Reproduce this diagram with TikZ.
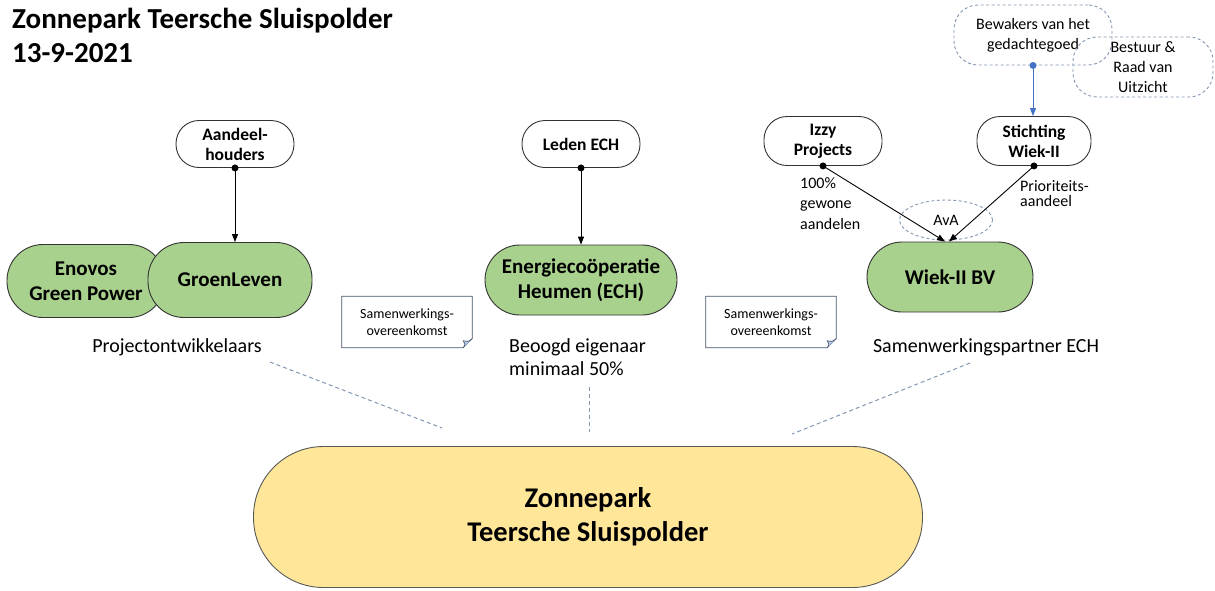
\documentclass[tikz,border=0pt]{standalone}
\usepackage{fontspec}
\setmainfont{Carlito}
\usetikzlibrary{arrows.meta,calc,shapes.geometric}
\definecolor{pgreen}{HTML}{A9D18E}
\definecolor{pyellow}{HTML}{FFE699}
\definecolor{dashgrey}{HTML}{8497B0}
\definecolor{notebd}{HTML}{44546A}
\definecolor{notefold}{HTML}{B4C7E7}
\definecolor{linkblue}{HTML}{4472C4}
\tikzset{
  pill/.style={draw=black!80, line width=0.9pt, rounded corners=#1, align=center, inner sep=0pt},
  smallpill/.style={pill=23pt, fill=white, minimum width=118pt, minimum height=47pt,
    font=\bfseries\fontsize{17.5}{20}\selectfont},
  greenpill/.style={pill=36pt, fill=pgreen, minimum height=72pt,
    font=\bfseries\fontsize{21}{25}\selectfont},
  cloudbox/.style={draw=dashgrey, line width=0.9pt, dash pattern=on 3pt off 2.5pt, rounded corners=24pt,
    align=center, inner sep=0pt, font=\fontsize{16}{20}\selectfont},
  lbl/.style={inner sep=0pt, font=\fontsize{20}{23.5}\selectfont},
  smlbl/.style={inner sep=0pt, align=left, font=\fontsize{16}{20.5}\selectfont},
  notebox/.style={inner sep=0pt, minimum width=130pt, minimum height=51pt, align=center,
    font=\fontsize{14}{17}\selectfont},
  link/.style={draw=black, line width=0.9pt, -{Triangle[length=8pt,width=6pt]}},
  guide/.style={draw=dashgrey, line width=1pt, dash pattern=on 4pt off 3pt},
  title/.style={inner sep=0pt, font=\bfseries\fontsize{29}{34}\selectfont}
}
\begin{document}
\begin{tikzpicture}[x=1pt,y=-1pt]
\useasboundingbox (0,0) rectangle (1215,590);

% title
\node[title, anchor=base west] (t1) at (12,28) {Zonnepark Teersche Sluispolder};
\node[title, anchor=base west] (t2) at (12,62) {13-9-2021};

% top row
\node[smallpill] (aand) at (235,144) {Aandeel-\\houders};
\node[smallpill] (leden) at (581,144) {Leden ECH};
\node[smallpill, minimum height=49pt] (izzy) at (823,141) {Izzy\\Projects};
\node[smallpill, minimum height=49pt, minimum width=114pt] (stich) at (1034,141) {Stichting\\Wiek-II};

% clouds
\node[cloudbox, minimum width=158pt, minimum height=60pt] (bew) at (1033,35) {Bewakers van het\\gedachtegoed};
\node[cloudbox, minimum width=140pt, minimum height=60pt] (best) at (1143,67) {Bestuur \&\\Raad van\\Uitzicht};
\node[draw=dashgrey, line width=0.9pt, dash pattern=on 3pt off 2.5pt, ellipse, inner sep=0pt,
  minimum width=93pt, minimum height=40pt, font=\fontsize{16}{20}\selectfont] (ava) at (946,220) {AvA};

% green entities
\node[greenpill, minimum width=158pt, minimum height=73pt] (enovos) at (86,281) {Enovos\\Green Power};
\node[greenpill, minimum width=164pt, minimum height=75pt] (groen) at (230,280) {GroenLeven};
\node[greenpill, minimum width=192pt, minimum height=70pt, pill=35pt] (ech) at (581,280) {Energiecoöperatie\\Heumen (ECH)};
\node[greenpill, minimum width=166pt, minimum height=70pt, pill=35pt] (wiek) at (950,277) {Wiek-II BV};

% big pill
\node[pill=70pt, fill=pyellow, draw=black!65, minimum width=669pt, minimum height=141pt,
  font=\bfseries\fontsize{28.5}{34}\selectfont] (zp) at (588,517) {Zonnepark\\Teersche Sluispolder};

% notes
\foreach \nm/\cx in {note1/407, note2/771}{
  \node[notebox] (\nm) at (\cx,322) {};
  \draw[draw=notebd, line width=0.8pt, fill=white]
    (\nm.north west) -- (\nm.north east) -- ([yshift=9pt]\nm.south east)
    -- ([xshift=-9pt]\nm.south east) -- (\nm.south west) -- cycle;
  \draw[draw=notebd, line width=0.6pt, fill=notefold]
    ([yshift=9pt]\nm.south east) .. controls ([xshift=-4pt,yshift=6pt]\nm.south east) .. ([xshift=-9pt,yshift=7pt]\nm.south east)
    .. controls ([xshift=-7pt,yshift=3pt]\nm.south east) .. ([xshift=-9pt]\nm.south east);
  \node[notebox] at (\cx,322) {Samenwerkings-\\overeenkomst};
}

% labels
\node[lbl, anchor=base] (proj) at (177,352) {Projectontwikkelaars};
\node[lbl, anchor=north west, align=left] (beoogd) at (509,338) {Beoogd eigenaar\\minimaal 50\%};
\node[lbl, anchor=base] (samp) at (986,352) {Samenwerkingspartner ECH};
\node[smlbl, anchor=north west] (gew) at (800,177) {100\%\\gewone\\aandelen};
\node[smlbl, anchor=north west, font=\fontsize{16}{15}\selectfont] (prio) at (1020,180) {Prioriteits-\\aandeel};

% connectors
\draw[link] (aand.south) -- (groen.north -| aand.south);
\fill (aand.south) circle (3.5pt);
\draw[link] (leden.south) -- (ech.north -| leden.south);
\fill (leden.south) circle (3.5pt);
\coordinate (wa) at ($(wiek.north)+(-5,0)$);
\coordinate (wb) at ($(wiek.north)+(-1,0)$);
\draw[link] (izzy.south) -- (wa);
\fill (izzy.south) circle (3.5pt);
\draw[link] (stich.south) -- (wb);
\fill (stich.south) circle (3.5pt);
\draw[link, draw=linkblue, -{Triangle[length=8pt,width=6pt,fill=linkblue]}] (bew.south) -- (stich.north -| bew.south);
\fill[linkblue] (bew.south) circle (3.5pt);

% dashed guides
\coordinate (g1a) at (270,362); \coordinate (g1b) at (442,428);
\coordinate (g2a) at (589,387); \coordinate (g2b) at (589,432);
\coordinate (g3a) at (970,363); \coordinate (g3b) at (792,434);
\draw[guide] (g1a) -- (g1b);
\draw[guide] (g2a) -- (g2b);
\draw[guide] (g3a) -- (g3b);
\end{tikzpicture}
\end{document}
